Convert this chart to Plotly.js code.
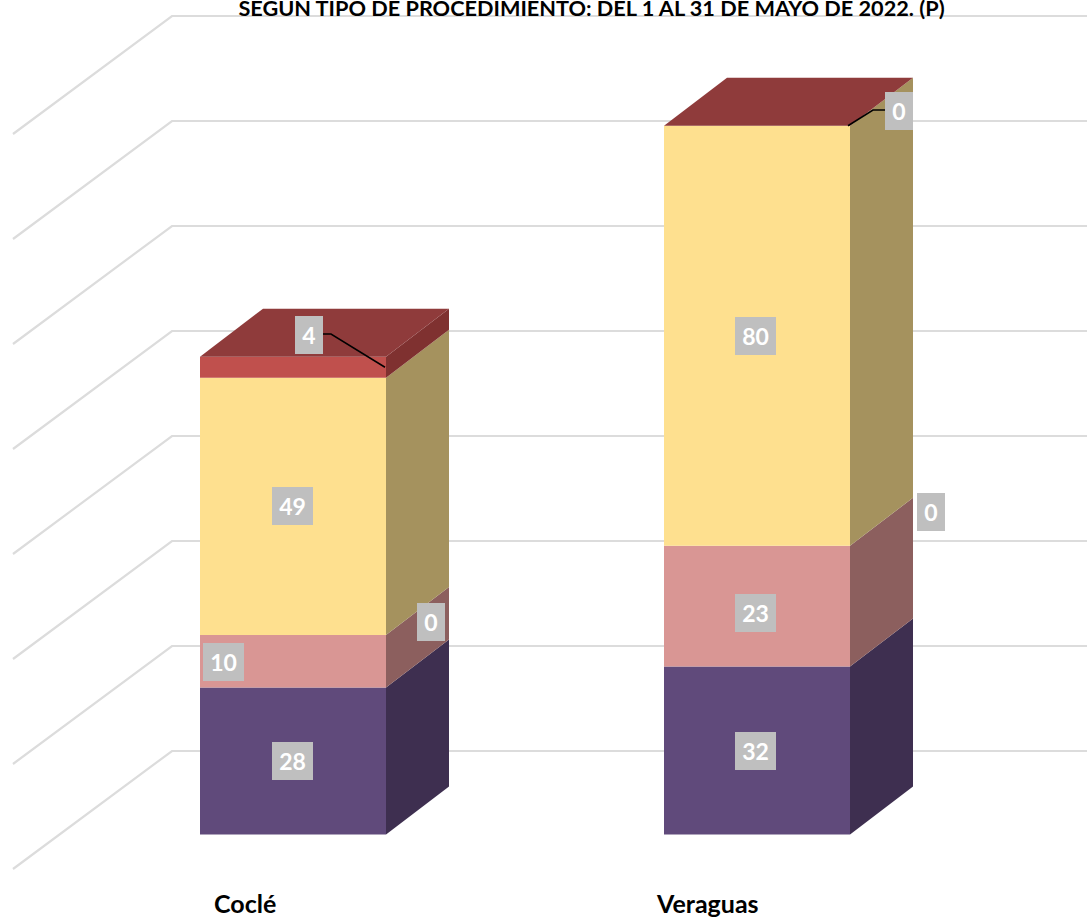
<!DOCTYPE html>
<html><head><meta charset="utf-8">
<script src="https://cdn.plot.ly/plotly-3.0.1.min.js"></script>
<style>html,body{margin:0;padding:0;background:#fff;overflow:hidden}</style>
</head><body><div id="chart" style="width:1087px;height:917px"></div>
<script>
const categories = ["Coclé", "Veraguas"];
const seriesPurple = [28, 32];
const seriesPink = [10, 23];
const seriesYellow = [49, 80];
const seriesRed = [4, 0];
const seriesZero = [0, 0];
const gridValues = [0, 20, 40, 60, 80, 100, 120, 140];
const titleText = "SEGÚN TIPO DE PROCEDIMIENTO: DEL 1 AL 31 DE MAYO DE 2022. (P)";

const W = 1087, H = 917, K = 5.25, BASE = 834.5;
const barLeft = [200, 664], barWidth = 186;
const barDx = 63, barDy = 48 / K;
const wallLeft = 13, wallDx = 159, wallDy = 118 / K, wallBack = (BASE - 751) / K;
const catCenter = [245, 707.5];
const catY = (BASE - 902.5) / K;

const faces = [
  {vals: seriesPurple, front: "#604a7b", side: "#3e2f50"},
  {vals: seriesPink,   front: "#d99694", side: "#8c5f5e"},
  {vals: seriesYellow, front: "#fee08f", side: "#a5925e"},
  {vals: seriesRed,    front: "#c0504d", side: "#7f3130"}
];
const topColor = "#8f3b3b";

const traces = [];
function poly(xs, ys, color) {
  traces.push({type: "scatter", mode: "lines", x: xs, y: ys, fill: "toself", fillcolor: color,
    line: {width: 0, color: color}, hoverinfo: "skip", showlegend: false});
}
function line(xs, ys, color, width) {
  traces.push({type: "scatter", mode: "lines", x: xs, y: ys,
    line: {width: width, color: color}, hoverinfo: "skip", showlegend: false});
}

// Gridlines: side wall diagonal, then back wall
gridValues.forEach(v => {
  const b = v + wallBack;
  line([wallLeft, wallLeft + wallDx, W], [b - wallDy, b, b], "#dcdcdc", 2.2);
});

// Bars, bottom to top
categories.forEach((c, i) => {
  const L = barLeft[i], R = L + barWidth;
  let acc = 0;
  faces.forEach(f => {
    const a = acc, b = acc + f.vals[i];
    acc = b;
    if (b > a) {
      poly([L, R, R, L, L], [a, a, b, b, a], f.front);
      poly([R, R + barDx, R + barDx, R, R], [a, a + barDy, b + barDy, b, a], f.side);
    }
  });
  poly([L, R, R + barDx, L + barDx, L], [acc, acc, acc + barDy, acc + barDy, acc], topColor);
});

// Leader lines
const coTop = seriesPurple[0] + seriesPink[0] + seriesYellow[0] + seriesRed[0];
const veTop = seriesPurple[1] + seriesPink[1] + seriesYellow[1] + seriesRed[1];
const py = p => (BASE - p) / K;
line([323, 331, 385], [py(334), py(334), coTop - seriesRed[0] / 2], "#000000", 1.5);
line([885, 873, 848], [py(110), py(110), veTop], "#000000", 1.5);

// Value labels
function mid(arrs, s, i) {
  let a = 0;
  for (let k = 0; k < s; k++) a += arrs[k][i];
  return a + arrs[s][i] / 2;
}
const stack = [seriesPurple, seriesPink, seriesYellow, seriesRed];
function label(val, x, y) {
  const two = String(val).length > 1;
  return {x: x, y: y, xref: "x", yref: "y", text: "<b>" + val + "</b>", showarrow: false,
    bgcolor: "#bfbfbf", width: two ? 41 : 28, height: 38, borderpad: 0, borderwidth: 0,
    align: "center", valign: "middle", font: {family: "Lato, Carlito, sans-serif", size: 23, color: "#ffffff"}};
}
const cx = barLeft.map(l => l + barWidth / 2);
const annotations = [
  label(seriesPurple[0], cx[0] - 0.5, mid(stack, 0, 0)),
  label(seriesPink[0], 223.5, mid(stack, 1, 0) - 0.2),
  label(seriesYellow[0], cx[0] - 0.5, mid(stack, 2, 0)),
  label(seriesRed[0], 309, py(335)),
  label(seriesZero[0], 431, py(622)),
  label(seriesPurple[1], cx[1] - 1.5, mid(stack, 0, 1)),
  label(seriesPink[1], cx[1] - 1.5, py(613)),
  label(seriesYellow[1], cx[1] - 1.5, mid(stack, 2, 1)),
  label(seriesRed[1], 899, py(111)),
  label(seriesZero[1], 931, py(512))
];
categories.forEach((c, i) => annotations.push({x: catCenter[i], y: catY, xref: "x", yref: "y",
  text: "<b>" + c + "</b>", showarrow: false,
  font: {family: "Lato, Carlito, sans-serif", size: 25, color: "#000000"}}));

Plotly.newPlot("chart", traces, {
  width: W, height: H,
  margin: {l: 0, r: 0, t: 0, b: 0},
  paper_bgcolor: "#ffffff", plot_bgcolor: "#ffffff",
  showlegend: false,
  title: {text: "<b>" + titleText + "</b>", x: 591.5 / W, xanchor: "center", y: 1 - 8 / H, yanchor: "middle",
    font: {family: "Lato, Carlito, sans-serif", size: 21.7, color: "#000000"}},
  xaxis: {range: [0, W], visible: false, fixedrange: true},
  yaxis: {range: [(BASE - H) / K, BASE / K], visible: false, fixedrange: true},
  annotations: annotations
}, {displayModeBar: false, staticPlot: true});
</script></body></html>
